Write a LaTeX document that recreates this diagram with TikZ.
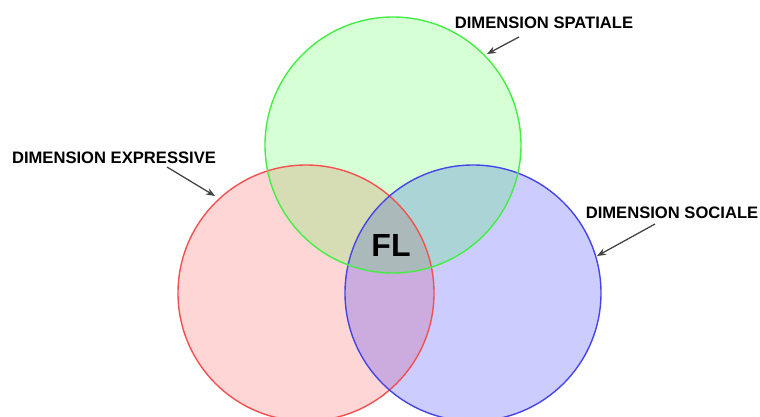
\documentclass[tikz,border=0pt]{standalone}
\usepackage{fontspec}
\setmainfont{Liberation Sans}
\usetikzlibrary{arrows.meta}
\definecolor{verdeL}{RGB}{68,238,68}
\definecolor{rojoL}{RGB}{245,80,80}
\definecolor{azulL}{RGB}{70,70,230}
\definecolor{flecha}{RGB}{68,68,68}
\tikzset{
  conjunto/.style = {line width=1.4pt},
  etiqueta/.style = {font=\fontsize{16.6}{18}\selectfont\bfseries, inner sep=0pt},
  senal/.style    = {-{Stealth[length=9pt,width=7pt]}, flecha, line width=1.3pt}
}
\begin{document}
\begin{tikzpicture}[x=1pt, y=-1pt]
  \useasboundingbox (0,0) rectangle (760,416);
  % conjuntos
  \fill[red, fill opacity=0.16] (306,293) circle[radius=128pt];
  \fill[blue, fill opacity=0.2] (473,293) circle[radius=128pt];
  \fill[green, fill opacity=0.16] (393,145) circle[radius=128pt];
  \draw[conjunto, rojoL] (306,293) circle[radius=128pt];
  \draw[conjunto, azulL] (473,293) circle[radius=128pt];
  \draw[conjunto, verdeL] (393,145) circle[radius=128pt];
  \node[font=\fontsize{32}{34}\selectfont\bfseries] (fl) at (391,245) {FL};
  % etiquetas
  \node[etiqueta] (espacial) at (544,23) {DIMENSION SPATIALE};
  \node[etiqueta] (expresiva) at (114,158) {DIMENSION EXPRESSIVE};
  \node[etiqueta] (social) at (672,213) {DIMENSION SOCIALE};
  \coordinate (aE) at (519,37);  \coordinate (pE) at (487,54);
  \coordinate (aX) at (167,167); \coordinate (pX) at (215,196);
  \coordinate (aS) at (655,224); \coordinate (pS) at (597,256);
  \draw[senal] (aE) -- (pE);
  \draw[senal] (aX) -- (pX);
  \draw[senal] (aS) -- (pS);
\end{tikzpicture}
\end{document}
